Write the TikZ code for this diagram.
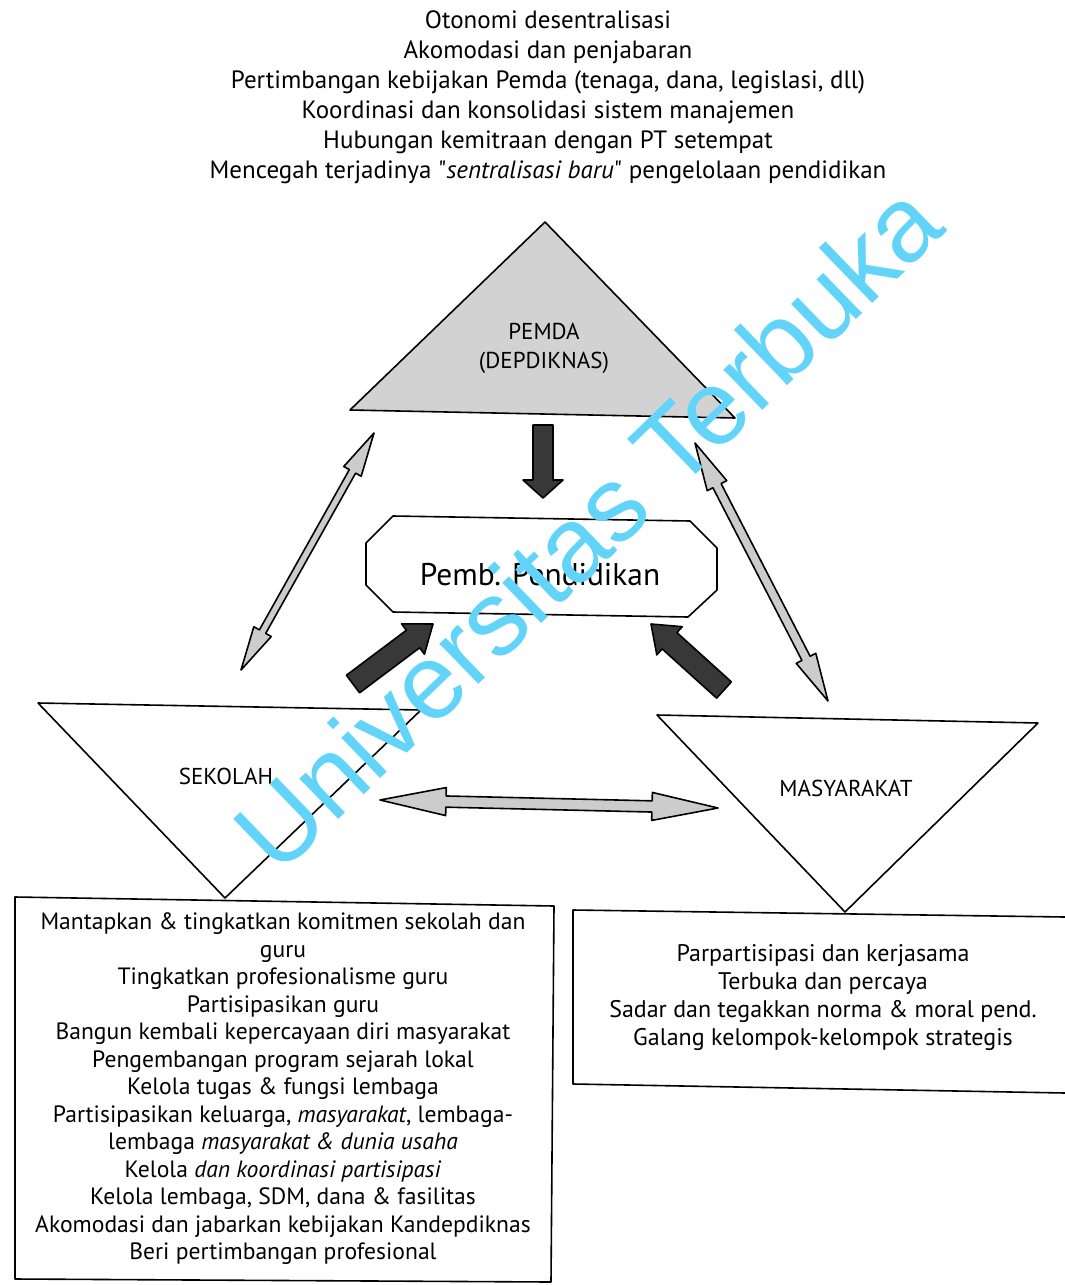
\documentclass[tikz,border=0pt]{standalone}
\usepackage{fontspec}
\setmainfont{PT Sans}
\newfontfamily\plainpt{PT Sans}[Ligatures=TeXOff]
\newfontfamily\wmfont{Liberation Sans}
\usetikzlibrary{calc}
\definecolor{wmblue}{RGB}{98,212,250}
\newcommand\dblarrow[6]{%
  \coordinate (tmpHa) at ($(#1)!#5!(#2)$);
  \coordinate (tmpHb) at ($(#2)!#5!(#1)$);
  \filldraw[#6] (#1) -- ($(tmpHa)!#4!90:(#2)$) -- ($(tmpHa)!#3!90:(#2)$) -- ($(tmpHb)!#3!90:(#2)$) -- ($(tmpHb)!#4!90:(#2)$) -- (#2) -- ($(tmpHb)!#4!-90:(#2)$) -- ($(tmpHb)!#3!-90:(#2)$) -- ($(tmpHa)!#3!-90:(#2)$) -- ($(tmpHa)!#4!-90:(#2)$) -- cycle;}
\newcommand\sglarrow[6]{%
  \coordinate (tmpH) at ($(#2)!#5!(#1)$);
  \filldraw[#6] ($(#1)!#3!90:(#2)$) -- ($(tmpH)!#3!90:(#2)$) -- ($(tmpH)!#4!90:(#2)$) -- (#2) -- ($(tmpH)!#4!-90:(#2)$) -- ($(tmpH)!#3!-90:(#2)$) -- ($(#1)!#3!-90:(#2)$) -- cycle;}
\begin{document}
\begin{tikzpicture}[x=0.5pt,y=-0.5pt,
  outl/.style={draw=black, line width=0.8pt, line join=round},
  lightarr/.style={draw=black, line width=0.8pt, fill=gray!40, line join=round},
  darkarr/.style={draw=black, line width=0.8pt, fill=black!78, line join=round},
  txt/.style={font=\fontsize{12.5}{15}\selectfont, align=center, inner sep=0pt},
  boxtxt/.style={font=\fontsize{11.8}{13.75}\selectfont, align=center, inner sep=0pt},
  lbl/.style={font=\fontsize{11.5}{14.5}\selectfont, align=center, inner sep=0pt}]
\useasboundingbox (0,0) rectangle (1065,1285);
\fill[white] (0,0) rectangle (1065,1285);

% top text
\node[txt] (toptext) at (548,97) {Otonomi desentralisasi\\
Akomodasi dan penjabaran\\
Pertimbangan kebijakan Pemda (tenaga, dana, legislasi, dll)\\
Koordinasi dan konsolidasi sistem manajemen\\
Hubungan kemitraan dengan PT setempat\\
Mencegah terjadinya {\plainpt"}\textit{sentralisasi baru}{\plainpt"} pengelolaan pendidikan};

% PEMDA triangle
\coordinate (pA) at (545,222);
\coordinate (pL) at (350,410);
\coordinate (pR) at (735,418);
\filldraw[outl, fill=gray!35] (pA) -- (pR) -- (pL) -- cycle;
\node[lbl] (pemda) at (544,348) {PEMDA\\(DEPDIKNAS)};

% Pemb. Pendidikan box
\draw[outl] (393,516) -- (690,521) -- (717,548) -- (717,590) -- (688,617) -- (393,612) -- (366,585) -- (366,543) -- cycle;
\node[inner sep=0pt, font=\fontsize{15.7}{18}\selectfont] (pemb) at (540,575) {Pemb. Pendidikan};

% SEKOLAH triangle
\coordinate (sL) at (38,703);
\coordinate (sR) at (421,710);
\coordinate (sB) at (225,898);
\draw[outl] (sL) -- (sR) -- (sB) -- cycle;
\node[lbl] (sekolah) at (226,776) {SEKOLAH};

% MASYARAKAT triangle
\coordinate (mL) at (657,715);
\coordinate (mR) at (1038,723);
\coordinate (mB) at (845,912);
\draw[outl] (mL) -- (mR) -- (mB) -- cycle;
\node[lbl] (masy) at (846,788) {MASYARAKAT};

% arrows
\coordinate (dTop) at (543,425);
\coordinate (dTip) at (543,498);
\sglarrow{dTop}{dTip}{5pt}{10pt}{9pt}{darkarr}

\coordinate (laTail) at (353,684);
\coordinate (laTip) at (433,624);
\sglarrow{laTail}{laTip}{5.5pt}{9.5pt}{12.5pt}{darkarr}

\coordinate (raTail) at (724,690);
\coordinate (raTip) at (651,624);
\sglarrow{raTail}{raTip}{5.5pt}{9.5pt}{12.5pt}{darkarr}

\coordinate (lsA) at (241,670);
\coordinate (lsB) at (374,433);
\dblarrow{lsA}{lsB}{1.8pt}{5pt}{22pt}{lightarr}

\coordinate (rsA) at (695,443);
\coordinate (rsB) at (828,701);
\dblarrow{rsA}{rsB}{2.3pt}{5.5pt}{24pt}{lightarr}

\coordinate (hA) at (380,800);
\coordinate (hB) at (718,808);
\dblarrow{hA}{hB}{2.8pt}{7pt}{33pt}{lightarr}

% left box
\draw[outl] (15,897) -- (554,906) -- (551,1282) -- (15,1279) -- cycle;
\node[boxtxt] (lefttext) at (283,1089) {Mantapkan \& tingkatkan komitmen sekolah dan\\
guru\\
Tingkatkan profesionalisme guru\\
Partisipasikan guru\\
Bangun kembali kepercayaan diri masyarakat\\
Pengembangan program sejarah lokal\\
Kelola tugas \& fungsi lembaga\\
Partisipasikan keluarga, \textit{masyarakat}, lembaga-\\
lembaga \textit{masyarakat \& dunia usaha}\\
Kelola \textit{dan koordinasi partisipasi}\\
Kelola lembaga, SDM, dana \& fasilitas\\
Akomodasi dan jabarkan kebijakan Kandepdiknas\\
Beri pertimbangan profesional};

% right box
\draw[outl] (1065,917) -- (573,910) -- (573,1084) -- (1065,1093);
\node[boxtxt, font=\fontsize{12}{14}\selectfont] (righttext) at (823,998) {Parpartisipasi dan kerjasama\\
Terbuka dan percaya\\
Sadar dan tegakkan norma \& moral pend.\\
Galang kelompok-kelompok strategis};

% watermark
\node[rotate=44, text=wmblue, inner sep=0pt, font=\wmfont\fontsize{53}{53}\selectfont] (wm) at (587,527) {Universitas Terbuka};
\end{tikzpicture}
\end{document}
